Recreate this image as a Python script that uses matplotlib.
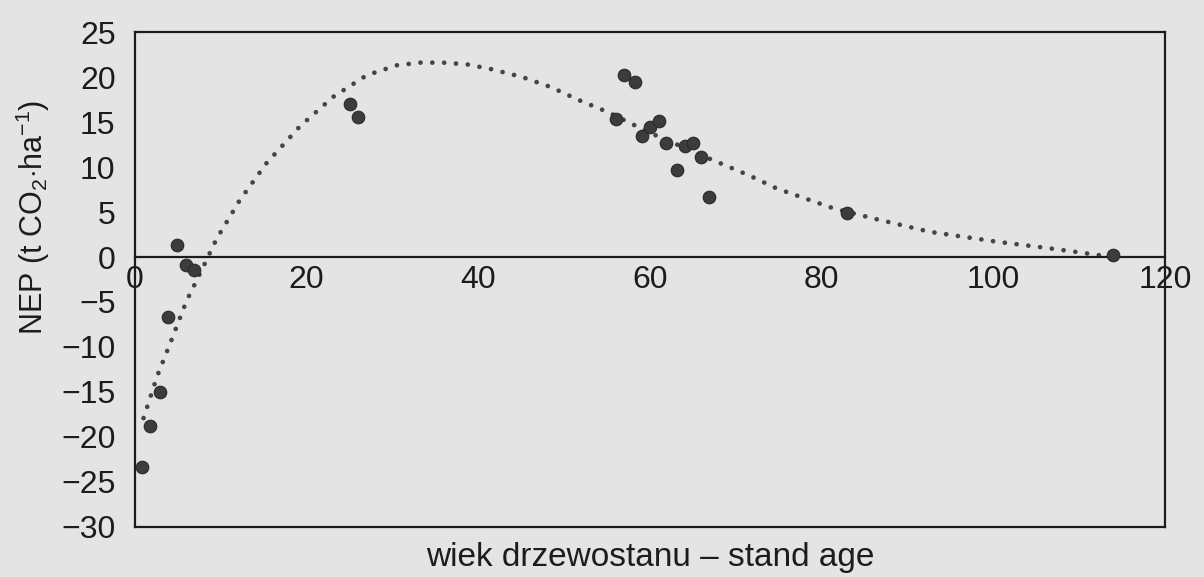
import matplotlib
matplotlib.use("Agg")
import matplotlib.pyplot as plt
from matplotlib.lines import Line2D

plt.rcParams["font.family"] = ["Liberation Sans", "DejaVu Sans"]
plt.rcParams["mathtext.fontset"] = "custom"
plt.rcParams["mathtext.rm"] = "Liberation Sans"

# measured points: stand age vs NEP
age = [0.8, 1.75, 2.9, 3.9, 4.9, 5.9, 6.9, 25.0, 26.0,
       56.0, 57.0, 58.2, 59.1, 60.0, 61.0, 61.9, 63.1, 64.1, 65.0, 65.9, 66.9,
       83.0, 114.0]
nep = [-23.3, -18.8, -15.0, -6.7, 1.3, -0.9, -1.4, 17.0, 15.6,
       15.3, 20.2, 19.4, 13.4, 14.4, 15.1, 12.7, 9.7, 12.3, 12.7, 11.1, 6.7,
       4.9, 0.2]

# trend line
trend_x = [1.0, 2.6, 4.1, 6.0, 7.8, 9.5, 12.2, 15.3, 19.2, 23.1, 27.0, 30.5,
           33.2, 35.9, 38.7, 41.4, 45.1, 48.4, 51.8, 55.1, 60.0, 67.0, 71.7,
           74.8, 81.4, 86.4, 92.6, 100.4, 106.6, 112.4]
trend_y = [-17.9, -13.2, -9.6, -4.9, -1.4, 2.0, 6.3, 10.4, 14.5, 17.8, 20.2, 21.3,
           21.6, 21.6, 21.4, 20.9, 20.0, 18.9, 17.4, 16.1, 13.8, 10.9, 9.0,
           7.6, 5.4, 4.2, 2.8, 1.7, 0.96, 0.2]

x_ticks = [0, 20, 40, 60, 80, 100, 120]
y_ticks = list(range(-30, 26, 5))

bg = "#e4e4e4"
ink = "#1c1c1c"

fig = plt.figure(figsize=(12.04, 5.77), dpi=100, facecolor=bg)
ax = fig.add_axes([0.1121, 0.0867, 0.8555, 0.8578], facecolor=bg)

ax.plot(trend_x, trend_y, color="#454545", lw=3.4,
        linestyle=(0, (0.01, 2.5)), dash_capstyle="round", zorder=2)
ax.scatter(age, nep, s=82, color="#3c3c3c", edgecolor="#2a2a2a",
           linewidth=0.8, zorder=3)

ax.set_xlim(0, 120)
ax.set_ylim(-30, 25)
ax.set_xticks(x_ticks)
ax.set_yticks(y_ticks)

for side in ["left", "right", "top", "bottom"]:
    ax.spines[side].set_linewidth(1.6)
    ax.spines[side].set_color(ink)
ax.spines["bottom"].set_position(("data", 0))
# closing edge of the box at the bottom
ax.add_line(Line2D([0, 1], [0, 0], transform=ax.transAxes, color=ink,
                   lw=1.6, clip_on=False))

ax.tick_params(axis="both", length=0, labelsize=23, colors=ink)
ax.tick_params(axis="x", pad=6)
ax.tick_params(axis="y", pad=14)

ax.set_ylabel("NEP (t CO$_2$$\\cdot$ha$^{-1}$)", fontsize=22, color=ink)
ax.yaxis.set_label_coords(-0.081, 0.625)
ax.set_xlabel("wiek drzewostanu \u2013 stand age", fontsize=24, color=ink)
ax.xaxis.set_label_coords(0.5, -0.031)

fig.savefig("out.png", dpi=100, facecolor=bg)
